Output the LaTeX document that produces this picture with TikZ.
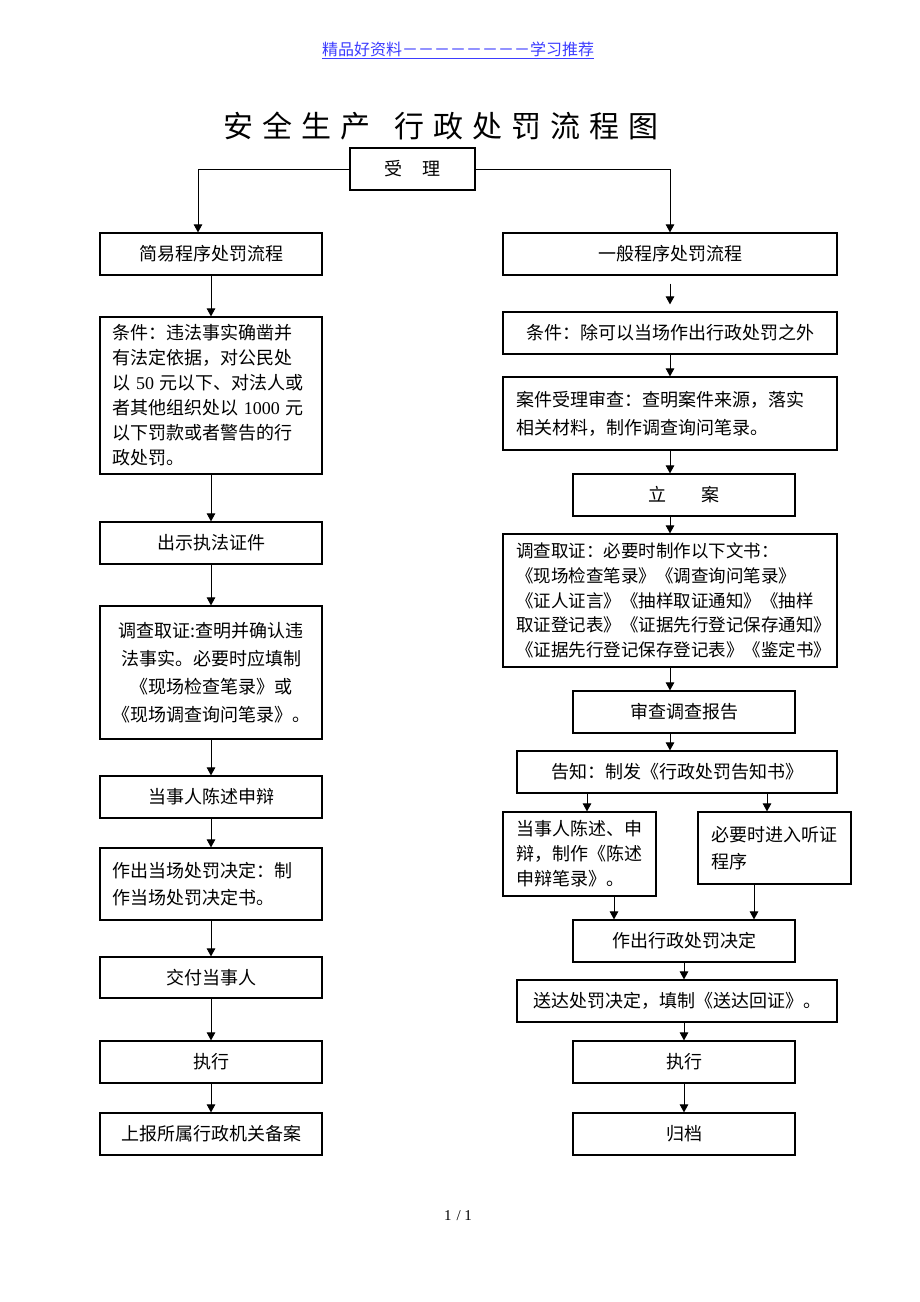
\documentclass[tikz,border=0pt]{standalone}
\usepackage{fontspec}
\setmainfont{Liberation Serif}
\newfontfamily\cjk{Noto Sans CJK SC}
\newfontfamily\tnr{Liberation Serif}
\usetikzlibrary{arrows.meta}
\definecolor{hdrblue}{RGB}{60,60,255}
\newcommand\tgap{\hspace{9pt}}
\begin{document}
\begin{tikzpicture}[x=1pt,y=-1pt,
  box/.style={draw, line width=1.2pt, inner sep=0pt, font=\cjk\fontsize{18}{25}\selectfont, align=center},
  lbox/.style={box, align=left, inner xsep=#1},
  arr/.style={-{Triangle[length=8pt,width=8.5pt]}, line width=0.9pt}]
\useasboundingbox (0,0) rectangle (920,1302);
\fill[white] (0,0) rectangle (920,1302);

% header and title
\node[font=\cjk\fontsize{16}{16}\selectfont, text=hdrblue] (H) at (458,50) {\underline{精品好资料－－－－－－－－学习推荐}};
\node[font=\cjk\fontsize{30}{30}\selectfont] (TT) at (441,126) {安\tgap 全\tgap 生\tgap 产\hspace{25pt}行\tgap 政\tgap 处\tgap 罚\tgap 流\tgap 程\tgap 图};

% top
\node[box, minimum width=125pt, minimum height=42pt] (T) at (412.5,169) {受\hspace{20pt}理};

% left column
\node[box, minimum width=222pt, minimum height=42pt] (L1) at (211,254) {简易程序处罚流程};
\node[lbox=12pt, text width=198pt, minimum height=157pt] (L2) at (211,395.5) {条件：违法事实确凿并\\有法定依据，对公民处\\以 {\tnr 50} 元以下、对法人或\\者其他组织处以 {\tnr 1000} 元\\以下罚款或者警告的行\\政处罚。};
\node[box, minimum width=222pt, minimum height=42pt] (L3) at (211,543) {出示执法证件};
\node[box, text width=222pt, minimum height=133pt, font=\cjk\fontsize{18}{28}\selectfont] (L4) at (211,672.5) {调查取证:查明并确认违\\法事实。必要时应填制\\《现场检查笔录》或\\《现场调查询问笔录》。};
\node[box, minimum width=222pt, minimum height=42pt] (L5) at (211,797) {当事人陈述申辩};
\node[lbox=12pt, text width=198pt, minimum height=72pt, font=\cjk\fontsize{18}{27}\selectfont] (L6) at (211,884) {作出当场处罚决定：制\\作当场处罚决定书。};
\node[box, minimum width=222pt, minimum height=41pt] (L7) at (211,977.5) {交付当事人};
\node[box, minimum width=222pt, minimum height=42pt] (L8) at (211,1062) {执行};
\node[box, minimum width=222pt, minimum height=42pt] (L9) at (211,1134) {上报所属行政机关备案};

% right column
\node[box, minimum width=334pt, minimum height=42pt] (R1) at (670,254) {一般程序处罚流程};
\node[box, minimum width=334pt, minimum height=42pt] (R2) at (670,333) {条件：除可以当场作出行政处罚之外};
\node[lbox=13pt, text width=308pt, minimum height=73pt, font=\cjk\fontsize{18}{28}\selectfont] (R3) at (670,413.5) {案件受理审查：查明案件来源，落实\\相关材料，制作调查询问笔录。};
\node[box, minimum width=222pt, minimum height=42pt] (R4) at (684,495) {立\hspace{35pt}案};
\node[lbox=13pt, text width=308pt, minimum height=133pt, font=\cjk\fontsize{17.5}{24.75}\selectfont] (R5) at (670,600.5) {调查取证：必要时制作以下文书：\\《现场检查笔录》《调查询问笔录》\\《证人证言》《抽样取证通知》《抽样\\取证登记表》《证据先行登记保存通知》\\《证据先行登记保存登记表》《鉴定书》};
\node[box, minimum width=222pt, minimum height=42pt] (R6) at (684,712) {审查调查报告};
\node[box, minimum width=320pt, minimum height=42pt] (R7) at (677,772) {告知：制发《行政处罚告知书》};
\node[lbox=13pt, text width=127pt, minimum height=84pt] (R8a) at (579.5,854) {当事人陈述、申\\辩，制作《陈述\\申辩笔录》。};
\node[lbox=13pt, text width=127pt, minimum height=72pt, font=\cjk\fontsize{18}{27}\selectfont] (R8b) at (774.5,848) {必要时进入听证\\程序};
\node[box, minimum width=222pt, minimum height=42pt] (R9) at (684,941) {作出行政处罚决定};
\node[box, minimum width=320pt, minimum height=42pt] (R10) at (677,1001) {送达处罚决定，填制《送达回证》。};
\node[box, minimum width=222pt, minimum height=42pt] (R11) at (684,1062) {执行};
\node[box, minimum width=222pt, minimum height=42pt] (R12) at (684,1134) {归档};

\node[font=\tnr\fontsize{15}{15}\selectfont] (PN) at (458,1216) {1\,\,/ 1};

% connectors top
\draw[arr] (T.west) -| ([xshift=-13pt]L1.north);
\draw[arr] (T.east) -| (R1.north);

% left connectors
\draw[arr] (L1) -- (L2);
\draw[arr] (L2) -- (L3);
\draw[arr] (L3) -- (L4);
\draw[arr] (L4) -- (L5);
\draw[arr] (L5) -- (L6);
\draw[arr] (L6) -- (L7);
\draw[arr] (L7) -- (L8);
\draw[arr] (L8) -- (L9);

% right connectors
\draw[arr] ([yshift=-8pt]R1.south) -- ([yshift=7pt]R2.north);
\draw[arr] (R2) -- (R3);
\draw[arr] (R3.south) -- (R3.south |- R4.north);
\draw[arr] (R4.south -| R5.north) -- (R5.north);
\draw[arr] (R5.south) -- (R5.south |- R6.north);
\draw[arr] (R6.south -| R5.south) -- (R7.north -| R5.south);
\draw[arr] ([xshift=-90pt]R7.south) -- ([xshift=7.5pt]R8a.north);
\draw[arr] ([xshift=90pt]R7.south) -- ([xshift=-7.5pt]R8b.north);
\draw[arr] ([xshift=34.5pt]R8a.south) -- ([xshift=-70pt]R9.north);
\draw[arr] ([xshift=-20.5pt]R8b.south) -- ([xshift=70pt]R9.north);
\draw[arr] (R9.south) -- (R9.south |- R10.north);
\draw[arr] (R10.south -| R11.north) -- (R11.north);
\draw[arr] (R11) -- (R12);
\end{tikzpicture}
\end{document}
